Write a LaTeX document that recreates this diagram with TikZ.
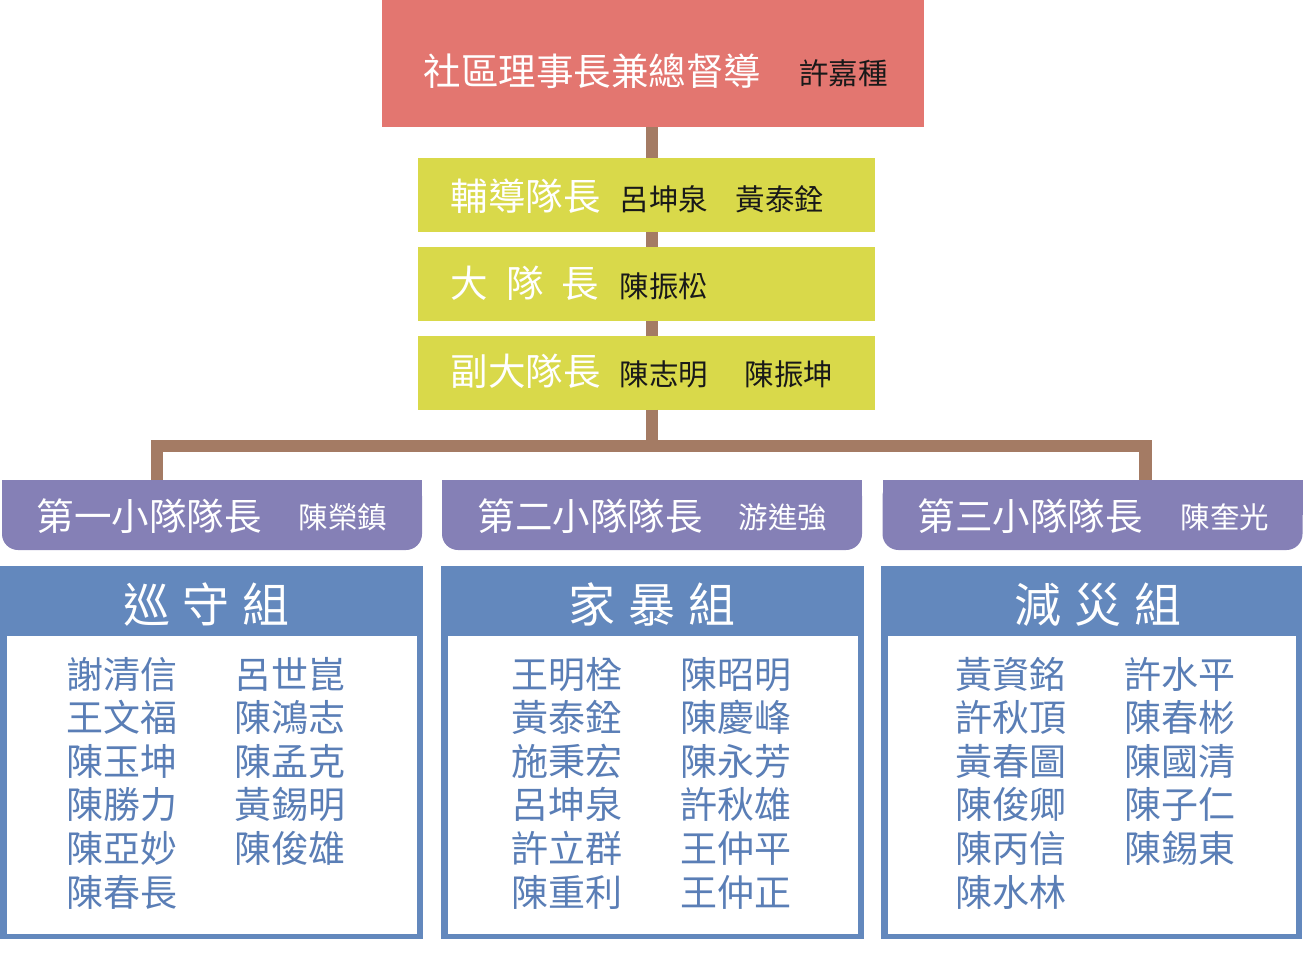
\documentclass[tikz,border=0pt]{standalone}
\usepackage{fontspec}
\setmainfont{Noto Sans CJK TC}
\definecolor{cred}{HTML}{E37670}
\definecolor{cyel}{HTML}{D9D94A}
\definecolor{cpur}{HTML}{8580B6}
\definecolor{cblue}{HTML}{6388BD}
\definecolor{cname}{HTML}{5A7EB6}
\definecolor{cbrown}{HTML}{A47B64}
\begin{document}
\begin{tikzpicture}[x=1pt,y=-1pt,
  shapebox/.style={draw=none,inner sep=0,outer sep=0,rectangle},
  topbox/.style={shapebox,fill=cred,minimum width=542pt,minimum height=127pt},
  yelbox/.style={shapebox,fill=cyel,minimum width=457pt,minimum height=74pt},
  purbox/.style={shapebox,fill=cpur,minimum width=420pt,minimum height=70pt,rounded corners=16pt},
  grpbox/.style={shapebox,fill=cblue,minimum height=373pt},
  conn/.style={draw=cbrown,line width=12.5pt,line join=miter},
  lbl/.style={inner sep=0,anchor=base west,font=\fontsize{37.5}{40}\selectfont,text=white},
  nm/.style={inner sep=0,anchor=base west,font=\fontsize{29.5}{32}\selectfont,text=black!90},
  wnm/.style={nm,text=white},
  hdr/.style={inner sep=0,anchor=base,font=\fontsize{47}{50}\selectfont,text=white},
  gn/.style={inner sep=0,anchor=base west,font=\fontsize{37}{40}\selectfont,text=cname}
]
\useasboundingbox (0,0) rectangle (1304,956);

% boxes
\node[topbox] (top) at (653,63.5) {};
\node[yelbox] (y1) at (646.5,194.5) {};
\node[yelbox] (y2) at (646.5,284) {};
\node[yelbox] (y3) at (646.5,372.5) {};

\coordinate (bar) at (652,446);
\coordinate (d1) at (157,446);
\coordinate (d3) at (1145.5,446);

\node[purbox] (p1) at (212,515) {};
\node[purbox] (p2) at (652,515) {};
\node[purbox] (p3) at (1092.5,515) {};
\foreach \p in {p1,p2,p3} {
  \fill[cpur] (\p.north west) rectangle (\p.east);
}

% connectors
\draw[conn] (top.south -| bar) -- (y1.north -| bar);
\draw[conn] (y1.south -| bar) -- (y2.north -| bar);
\draw[conn] (y2.south -| bar) -- (y3.north -| bar);
\draw[conn] (y3.south -| bar) -- (bar);
\draw[conn] (d1 |- p1.north) -- (d1) -- (d3) -- (d3 |- p3.north);

% group boxes
\node[grpbox,minimum width=423pt] (g1) at (211.5,752.5) {};
\node[grpbox,minimum width=423pt] (g2) at (652,752.5) {};
\node[grpbox,minimum width=421pt] (g3) at (1091.5,752.5) {};
\foreach \g in {g1,g2,g3} {
  \fill[white] ([xshift=7pt,yshift=-70pt]\g.north west) rectangle ([xshift=-6pt,yshift=5.5pt]\g.south east);
}

% top texts
\node[lbl] (t1) at (423.5,85) {社區理事長兼總督導};
\node[nm] (t2) at (799,84) {許嘉種};

\node[lbl] (a1) at (450.5,210) {輔導隊長};
\node[nm] (a2) at (619.5,210) {呂坤泉};
\node[nm] (a3) at (735.5,210) {黃泰銓};

\node[lbl] (b1) at (450.5,297) {大\hspace{18pt}隊\hspace{18pt}長};
\node[nm] (b2) at (619.5,297) {陳振松};

\node[lbl] (c1) at (450.5,385) {副大隊長};
\node[nm] (c2) at (619.5,385) {陳志明};
\node[nm] (c3) at (744.5,385) {陳振坤};

% squad leaders
\node[lbl] (s1) at (36.5,530) {第一小隊隊長};
\node[wnm] (s1n) at (298.5,528) {陳榮鎮};
\node[lbl] (s2) at (477.5,530) {第二小隊隊長};
\node[wnm] (s2n) at (738.5,528) {游進強};
\node[lbl] (s3) at (917.5,530) {第三小隊隊長};
\node[wnm] (s3n) at (1180.5,528) {陳奎光};

% headers
\node[hdr] (h1) at (206.5,622) {巡\hspace{13pt}守\hspace{13pt}組};
\node[hdr] (h2) at (652,622) {家\hspace{13pt}暴\hspace{13pt}組};
\node[hdr] (h3) at (1098,622) {減\hspace{13pt}災\hspace{13pt}組};

% members
\foreach \n [count=\i from 0] in {謝清信,王文福,陳玉坤,陳勝力,陳亞妙,陳春長}
  \node[gn] (m1l\i) at (66.5,{688+43.6*\i}) {\n};
\foreach \n [count=\i from 0] in {呂世崑,陳鴻志,陳孟克,黃錫明,陳俊雄}
  \node[gn] (m1r\i) at (234.5,{688+43.6*\i}) {\n};
\foreach \n [count=\i from 0] in {王明栓,黃泰銓,施秉宏,呂坤泉,許立群,陳重利}
  \node[gn] (m2l\i) at (511.5,{688+43.6*\i}) {\n};
\foreach \n [count=\i from 0] in {陳昭明,陳慶峰,陳永芳,許秋雄,王仲平,王仲正}
  \node[gn] (m2r\i) at (680.5,{688+43.6*\i}) {\n};
\foreach \n [count=\i from 0] in {黃資銘,許秋頂,黃春圖,陳俊卿,陳丙信,陳水林}
  \node[gn] (m3l\i) at (955.5,{688+43.6*\i}) {\n};
\foreach \n [count=\i from 0] in {許水平,陳春彬,陳國清,陳子仁,陳錫東}
  \node[gn] (m3r\i) at (1124.5,{688+43.6*\i}) {\n};
\end{tikzpicture}
\end{document}
